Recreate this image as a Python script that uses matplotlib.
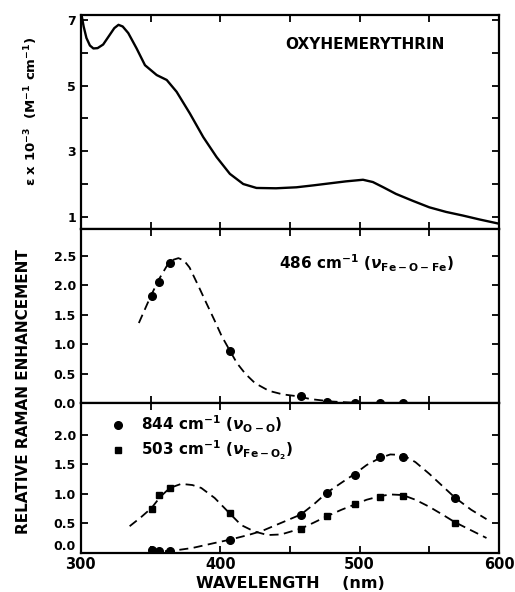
import numpy as np
import matplotlib
matplotlib.use('Agg')
import matplotlib.pyplot as plt

#******************************************************************
# Data
#******************************************************************

# absorption spectrum of oxyhemerythrin (top panel)
abs_wl = [300.5, 302, 304, 306.5, 309, 312, 316, 320, 324, 327, 330, 334,
          340, 346, 354.4, 361.6, 368.7, 378.2, 387.8, 397.4, 406.9, 416.5,
          426, 440, 454.6, 467, 478.5, 490, 502.4, 509.5, 517, 526, 538,
          550, 562, 574, 586, 599]
abs_eps = [7.15, 6.8, 6.45, 6.22, 6.13, 6.14, 6.25, 6.5, 6.75, 6.85, 6.8, 6.6,
           6.13, 5.62, 5.32, 5.17, 4.81, 4.15, 3.43, 2.82, 2.31, 2.0,
           1.88, 1.87, 1.9, 1.96, 2.02, 2.08, 2.13, 2.06, 1.9, 1.7, 1.49,
           1.29, 1.15, 1.04, 0.92, 0.8]

# excitation wavelengths (laser lines)
exc_wl = [350.7, 356.4, 363.8, 406.7, 457.9, 476.5, 496.5, 514.5, 530.9, 568.2]

# 486 cm-1 (Fe-O-Fe) profile, middle panel
feofe_wl = [350.7, 356.4, 363.8, 406.7, 457.9, 476.5, 496.5, 514.5, 530.9]
feofe_val = [1.81, 2.05, 2.38, 0.89, 0.13, 0.02, 0.01, 0.0, 0.0]
feofe_fit_wl = [341.6, 350, 356, 362, 366, 370, 374, 378, 384.5, 390, 396,
                401, 406.7, 412, 418, 425, 435, 445, 455, 465, 480, 495, 510, 530]
feofe_fit = [1.36, 1.81, 2.1, 2.34, 2.43, 2.46, 2.42, 2.3, 1.98, 1.7, 1.4,
             1.14, 0.9, 0.68, 0.5, 0.34, 0.21, 0.15, 0.12, 0.07, 0.03, 0.01, -0.01, -0.01]

# 844 cm-1 (O-O) profile, bottom panel
oo_val = [0.05, 0.03, 0.03, 0.22, 0.64, 1.02, 1.32, 1.63, 1.63, 0.93]
oo_fit_wl = [350, 365, 380, 395, 406.7, 420, 430, 445, 457.9, 467, 476.5,
             487, 496.5, 505, 514.5, 522, 530.9, 540, 550, 560, 568.2, 580, 591]
oo_fit = [0.02, 0.03, 0.08, 0.16, 0.22, 0.3, 0.37, 0.52, 0.65, 0.82, 1.02,
          1.19, 1.34, 1.49, 1.61, 1.67, 1.66, 1.54, 1.34, 1.12, 0.94, 0.73, 0.57]

# 503 cm-1 (Fe-O2) profile, bottom panel
feo2_val = [0.74, 0.98, 1.10, 0.67, 0.41, 0.62, 0.82, 0.95, 0.97, 0.51]
feo2_fit_wl = [335, 343, 350.7, 357, 363.8, 372, 380, 386.4, 396, 406.7, 415,
               424.5, 434, 443.6, 457.9, 467, 476.5, 487, 496.5, 505, 514.5,
               522, 530.9, 540, 550, 560, 568.2, 580, 591]
feo2_fit = [0.45, 0.6, 0.76, 0.95, 1.1, 1.17, 1.15, 1.1, 0.93, 0.67, 0.47,
            0.36, 0.30, 0.31, 0.41, 0.51, 0.62, 0.73, 0.82, 0.9, 0.96,
            0.99, 0.98, 0.9, 0.78, 0.64, 0.52, 0.38, 0.25]

x_ticks = [300, 350, 400, 450, 500, 550, 600]
x_ticklabels = ['300', '', '400', '', '500', '', '600']
top_yticks = [1, 2, 3, 4, 5, 6, 7]
top_yticklabels = ['1', '', '3', '', '5', '', '7']
mid_yticks = [0.0, 0.5, 1.0, 1.5, 2.0, 2.5]
bot_yticks = [0.0, 0.5, 1.0, 1.5, 2.0]

#******************************************************************
# Figure
#******************************************************************

plt.rcParams['font.family'] = 'DejaVu Sans'
plt.rcParams['font.weight'] = 'bold'
plt.rcParams['mathtext.default'] = 'it'

fig = plt.figure(figsize=(5.15, 5.92), dpi=100)

left, width = 0.157, 0.812
ax1 = fig.add_axes([left, 0.6132, width, 0.3615])
ax2 = fig.add_axes([left, 0.3188, width, 0.2944])
ax3 = fig.add_axes([left, 0.0664, width, 0.2524])

for ax in (ax1, ax2, ax3):
    ax.set_xlim(300, 600)
    ax.set_xticks(x_ticks)
    for s in ax.spines.values():
        s.set_linewidth(1.6)
    ax.tick_params(direction='in', top=True, right=True, length=5,
                   width=1.3, labelsize=9)

dash = dict(color='black', linestyle=(0, (5, 3)), linewidth=1.3)

# top panel: absorption
ax1.plot(abs_wl, abs_eps, color='black', linewidth=1.7)
ax1.set_ylim(0.63, 7.15)
ax1.set_yticks(top_yticks)
ax1.set_yticklabels(top_yticklabels)
ax1.set_xticklabels([])
ax1.text(0.68, 0.86, 'OXYHEMERYTHRIN', transform=ax1.transAxes,
         ha='center', va='center', fontsize=11, fontweight='bold')

# middle panel: Fe-O-Fe
ax2.plot(feofe_fit_wl, feofe_fit, **dash)
ax2.plot(feofe_wl, feofe_val, 'o', color='black', markersize=5.5)
ax2.set_ylim(0, 2.954)
ax2.set_yticks(mid_yticks)
ax2.set_xticklabels([])
ax2.text(0.682, 0.805, r'486 cm$^{\mathbf{-1}}$ ($\nu_{\mathbf{Fe-O-Fe}}$)',
         transform=ax2.transAxes, ha='center', va='center', fontsize=11,
         fontweight='bold')

# bottom panel: O-O and Fe-O2
ax3.plot(oo_fit_wl, oo_fit, **dash)
ax3.plot(feo2_fit_wl, feo2_fit, **dash)
h1, = ax3.plot(exc_wl, oo_val, 'o', color='black', markersize=5.5)
h2, = ax3.plot(exc_wl, feo2_val, 's', color='black', markersize=5)
ax3.set_ylim(0, 2.54)
ax3.set_yticks(bot_yticks)
ax3.set_xticklabels(x_ticklabels, fontsize=10.5)
ax3.tick_params(axis='x', pad=3)
# the bottom "0.0" sits a little above the axis line, clear of "300"
ax3.get_yticklabels()[0].set_va('bottom')
ax3.legend([h1, h2],
           [r'844 cm$^{\mathbf{-1}}$ ($\nu_{\mathbf{O-O}}$)',
            r'503 cm$^{\mathbf{-1}}$ ($\nu_{\mathbf{Fe-O_2}}$)'],
           loc='upper left', bbox_to_anchor=(0.055, 0.97), frameon=False,
           handlelength=1.0, handletextpad=1.0, labelspacing=0.2,
           borderaxespad=0.0, prop={'weight': 'bold', 'size': 11})

# axis titles
fig.text(0.06, 0.8125, r'$\mathbf{\epsilon}$ x 10$^{\mathbf{-3}}$  (M$^{\mathbf{-1}}$ cm$^{\mathbf{-1}}$)',
         rotation=90, ha='center', va='center', fontsize=9.5, fontweight='bold')
fig.text(0.045, 0.338, 'RELATIVE RAMAN ENHANCEMENT', rotation=90,
         ha='center', va='center', fontsize=11, fontweight='bold')
fig.text(0.563, 0.015, 'WAVELENGTH    (nm)', ha='center', va='center',
         fontsize=11.5, fontweight='bold')

plt.savefig('out.png', dpi=100)
